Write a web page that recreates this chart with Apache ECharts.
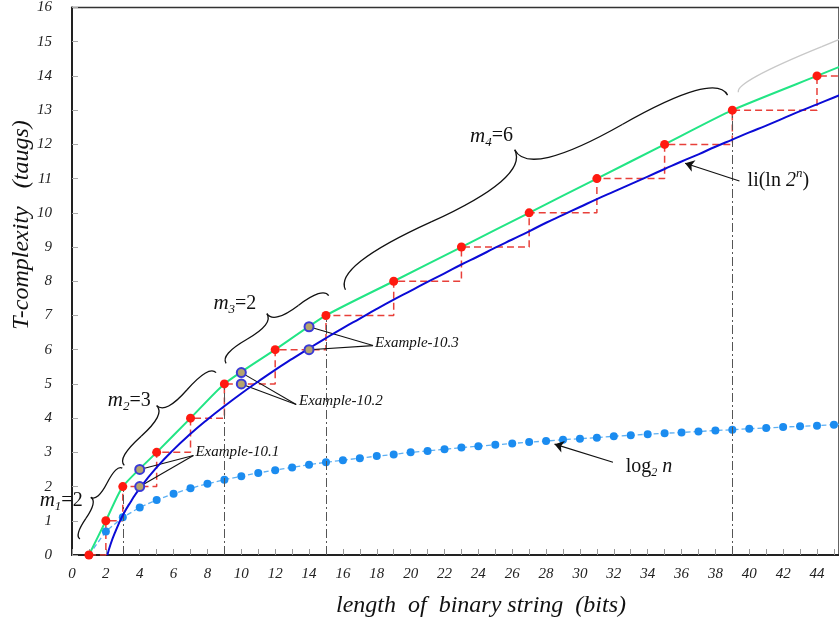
<!DOCTYPE html>
<html>
<head>
<meta charset="utf-8">
<script src="https://cdn.jsdelivr.net/npm/echarts@6/dist/echarts.min.js"></script>
<style>
  html, body { margin: 0; padding: 0; background: #fff; }
  #chart { width: 839px; height: 624px; }
</style>
</head>
<body>
<div id="chart"></div>
<script>
// staircase / red points (n, T)
const stepN = [1, 2, 3, 5, 7, 9, 12, 15, 19, 23, 27, 31, 35, 39, 44, 49];
const stepT = [0, 1, 2, 3, 4, 5, 6, 7, 8, 9, 10, 11, 12, 13, 14, 15];

// li(ln 2^n) curve
const liN = [2.09, 2.25, 2.5, 3, 3.5, 4, 5, 6, 7, 8, 9, 10, 11, 12, 13, 14, 15, 16, 17, 18, 19, 20,
  21, 22, 23, 24, 25, 26, 27, 28, 29, 30, 31, 32, 33, 34, 35, 36, 37, 38, 39, 40, 41, 42, 43, 44, 45, 46];
const liT = [0, 0.27, 0.61, 1.16, 1.58, 1.95, 2.56, 3.08, 3.54, 3.96, 4.35, 4.72, 5.07, 5.41, 5.73, 6.04,
  6.34, 6.63, 6.91, 7.19, 7.46, 7.72, 7.98, 8.23, 8.49, 8.73, 8.98, 9.22, 9.46, 9.71, 9.94, 10.17,
  10.40, 10.62, 10.84, 11.06, 11.28, 11.50, 11.71, 11.93, 12.14, 12.35, 12.55, 12.76, 12.97, 13.17, 13.37, 13.57];

// dotted "log" series
const logN = [1, 2, 3, 4, 5, 6, 7, 8, 9, 10, 11, 12, 13, 14, 15, 16, 17, 18, 19, 20, 21, 22, 23,
  24, 25, 26, 27, 28, 29, 30, 31, 32, 33, 34, 35, 36, 37, 38, 39, 40, 41, 42, 43, 44, 45, 46];
const logT = [0, 0.69, 1.10, 1.39, 1.61, 1.79, 1.95, 2.08, 2.20, 2.30, 2.40, 2.48, 2.56, 2.64, 2.71,
  2.77, 2.83, 2.89, 2.94, 3.00, 3.04, 3.09, 3.14, 3.18, 3.22, 3.26, 3.30, 3.33, 3.37, 3.40, 3.43,
  3.47, 3.50, 3.53, 3.56, 3.58, 3.61, 3.64, 3.66, 3.69, 3.71, 3.74, 3.76, 3.78, 3.81, 3.83];

// Example points
const exN = [4, 4, 10, 10, 14, 14];
const exT = [2.5, 2, 5.33, 5, 6.67, 6];
const exNames = ['Example-10.1', 'Example-10.2', 'Example-10.3'];

// dash-dot guides
const guideN = [3, 9, 15, 39];
const guideT = [2, 5, 7, 13];

// braces (data units) and their labels
const braceFrom = [[0.47, 0.47], [3.09, 2.62], [9.10, 5.60], [16.15, 7.75], [39.36, 13.52]];
const braceTo = [[2.97, 2.54], [8.51, 5.33], [15.16, 7.58], [38.72, 13.44], [59.9, 17.9]];
const braceSub = ['1', '2', '3', '4'];
const braceVal = ['=2', '=3', '=2', '=6'];

const F = '"Liberation Serif", "DejaVu Serif", serif';

const chart = echarts.init(document.getElementById('chart'));

const zip = (a, b) => a.map((v, i) => [v, b[i]]);

const option = {
  animation: false,
  backgroundColor: '#fff',
  grid: { left: 72, right: -10, top: 6, bottom: 69, show: true, borderColor: '#333', borderWidth: 1.5 },
  xAxis: {
    type: 'value', min: 0, max: 45.3, interval: 2,
    axisLine: { lineStyle: { color: '#222', width: 2 } },
    axisTick: { inside: true, length: 6, lineStyle: { color: '#999' } },
    minorTick: { show: true, splitNumber: 2, length: 6, lineStyle: { color: '#999' } },
    splitLine: { show: false },
    axisLabel: { showMaxLabel: false, margin: 12, color: '#222', fontFamily: F, fontStyle: 'italic', fontSize: 15 }
  },
  yAxis: {
    type: 'value', min: 0, max: 16, interval: 1,
    axisLine: { show: true, lineStyle: { color: '#222', width: 2 } },
    axisTick: { show: true, inside: true, length: 6, lineStyle: { color: '#aaa' } },
    splitLine: { show: false },
    axisLabel: { margin: 20, color: '#222', fontFamily: F, fontStyle: 'italic', fontSize: 15 }
  },
  series: [
    {
      type: 'line', step: 'end', data: zip(stepN, stepT), showSymbol: false, symbol: 'none', z: 2,
      lineStyle: { color: '#e8403a', width: 1.5, type: [7, 4] }
    },
    {
      type: 'line', data: [], z: 1,
      markLine: {
        silent: true, symbol: 'none', label: { show: false },
        lineStyle: { color: '#555', width: 1, type: [9, 3, 2, 3] },
        data: guideN.map((n, i) => [{ coord: [n, 0] }, { coord: [n, guideT[i]] }])
      }
    },
    {
      type: 'line', data: zip(logN, logT), symbol: 'circle', symbolSize: 8, z: 3,
      itemStyle: { color: '#1b8cf0' },
      lineStyle: { color: '#5db0f3', width: 1.3, type: [5, 3] },
      markLine: {
        silent: true, symbol: ['none', 'arrow'], symbolSize: 9, label: { show: false },
        lineStyle: { color: '#111', width: 1.2, type: 'solid' },
        data: [[{ coord: [31.95, 2.71] }, { coord: [28.5, 3.24] }]]
      }
    },
    {
      type: 'line', data: zip(stepN, stepT), smooth: 0.2, symbol: 'none', z: 4,
      lineStyle: { color: '#22e585', width: 2 }
    },
    {
      type: 'line', data: zip(liN, liT), smooth: true, symbol: 'none', z: 5,
      lineStyle: { color: '#0b0bd6', width: 2 },
      markLine: {
        silent: true, symbol: ['none', 'arrow'], symbolSize: 9, label: { show: false },
        lineStyle: { color: '#111', width: 1.2, type: 'solid' },
        data: [[{ coord: [39.42, 10.93] }, { coord: [36.21, 11.45] }]]
      }
    },
    {
      type: 'scatter', data: zip(stepN.slice(0, 15), stepT.slice(0, 15)), symbolSize: 9, z: 6,
      itemStyle: { color: '#ff1a10', opacity: 1 }
    },
    {
      type: 'scatter', data: zip(exN, exT), symbolSize: 9, z: 7,
      itemStyle: { color: '#b5a46e', borderColor: '#3a3ad6', borderWidth: 2, opacity: 1 },
      markLine: {
        silent: true, symbol: 'none', label: { show: false },
        lineStyle: { color: '#111', width: 1.1, type: 'solid' },
        data: [
          [{ coord: [4, 2.5] }, { coord: [7.17, 2.91] }],
          [{ coord: [4, 2] }, { coord: [7.17, 2.91] }],
          [{ coord: [10, 5.33] }, { coord: [13.24, 4.40] }],
          [{ coord: [10, 5] }, { coord: [13.24, 4.40] }],
          [{ coord: [14, 6.67] }, { coord: [17.78, 6.12] }],
          [{ coord: [14, 6] }, { coord: [17.78, 6.12] }]
        ]
      }
    }
  ]
};
chart.setOption(option);

const px = p => chart.convertToPixel({ gridIndex: 0 }, p);
const ctx = document.createElement('canvas').getContext('2d');

function textRun(at, parts, align) {
  let total = 0;
  const ws = parts.map(p => { ctx.font = p[1]; const w = ctx.measureText(p[0]).width; total += w; return w; });
  let x = align === 'left' ? at[0] : at[0] - total / 2;
  return parts.map((p, i) => {
    const el = { type: 'text', x: x, y: at[1] + (p[2] || 0), z: 100,
      style: { text: p[0], font: p[1], fill: '#111', align: 'left', verticalAlign: 'middle' } };
    x += ws[i];
    return el;
  });
}

// curly brace as four quadratic curves, bulging to the left of a->b
function braceCurves(a, b, w, k, color) {
  const L = Math.hypot(b[0] - a[0], b[1] - a[1]);
  const ux = (b[0] - a[0]) / L, uy = (b[1] - a[1]) / L;
  const nx = uy, ny = -ux;
  const pt = (s, h) => [a[0] + ux * s + nx * h, a[1] + uy * s + ny * h];
  const r = 2 * (1 - k) * w - k * w;
  const segs = [
    [pt(0, 0), pt(0, k * w), pt(0.25 * L, (1 - k) * w)],
    [pt(0.25 * L, (1 - k) * w), pt(0.5 * L, r), pt(0.5 * L, w)],
    [pt(L, 0), pt(L, k * w), pt(0.75 * L, (1 - k) * w)],
    [pt(0.75 * L, (1 - k) * w), pt(0.5 * L, r), pt(0.5 * L, w)]
  ];
  return segs.map(s => ({
    type: 'bezierCurve', z: 90,
    shape: { x1: s[0][0], y1: s[0][1], cpx1: s[1][0], cpy1: s[1][1], x2: s[2][0], y2: s[2][1] },
    style: { stroke: color, lineWidth: 1.3, fill: null }
  }));
}

const braceDepth = [12, 19, 19, 48, 20];
const graphics = [];
braceFrom.forEach((f, i) => {
  graphics.push(...braceCurves(px(f), px(braceTo[i]), braceDepth[i], 0.55, i === 4 ? '#c8c8c8' : '#111'));
});

const mAt = [[-0.64, 1.60], [3.38, 4.52], [9.62, 7.34], [24.78, 12.24]];
mAt.forEach((p, i) => {
  graphics.push(...textRun(px(p), [
    ['m', 'italic 21px ' + F], [braceSub[i], 'italic 13px ' + F, 6], [braceVal[i], '20px ' + F]
  ]));
});

const exAt = [[7.29, 3.00], [13.41, 4.49], [17.90, 6.18]];
exAt.forEach((p, i) => {
  graphics.push(...textRun(px(p), [[exNames[i], 'italic 15px ' + F]], 'left'));
});

graphics.push(...textRun(px([39.9, 10.93]), [
  ['li(ln ', '20px ' + F], ['2', 'italic 20px ' + F], ['n', 'italic 13px ' + F, -7], [')', '20px ' + F]
], 'left'));
graphics.push(...textRun(px([32.7, 2.59]), [
  ['log', '20px ' + F], ['2', 'italic 12px ' + F, 6], [' n', 'italic 20px ' + F]
], 'left'));

// axis titles
graphics.push({
  type: 'text', x: 22, y: 225, rotation: Math.PI / 2, z: 100,
  style: { text: 'T-complexity   (taugs)', font: 'italic 24px ' + F, fill: '#111', align: 'center', verticalAlign: 'middle' }
});
graphics.push({
  type: 'text', x: 481, y: 606, z: 100,
  style: { text: 'length  of  binary string  (bits)', font: 'italic 24px ' + F, fill: '#111', align: 'center', verticalAlign: 'middle' }
});

chart.setOption({ graphic: graphics });
</script>
</body>
</html>
